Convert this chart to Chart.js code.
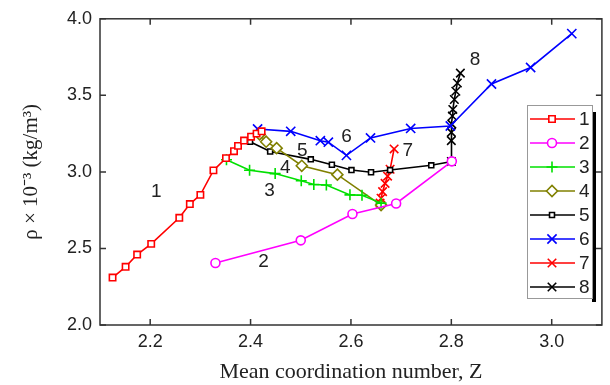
<!DOCTYPE html>
<html>
<head>
<meta charset="utf-8">
<script src="https://cdn.jsdelivr.net/npm/chart.js@4.4.1/dist/chart.umd.min.js"></script>
<style>
html,body{margin:0;padding:0;background:#fff}
</style>
</head>
<body>
<canvas id="rho" width="610" height="385"></canvas>
<script>
// series: mean coordination number Z vs density (x 10^-3)
const z1 = [2.125,2.151,2.174,2.202,2.258,2.279,2.300,2.326,2.351,2.367,2.375,2.387,2.401,2.412,2.422];
const rho1 = [2.31,2.38,2.46,2.53,2.70,2.79,2.85,3.01,3.09,3.135,3.17,3.205,3.23,3.25,3.265];
const z2 = [2.330,2.500,2.603,2.690,2.801];
const rho2 = [2.405,2.553,2.725,2.794,3.069];
const z3 = [2.352,2.398,2.449,2.501,2.526,2.551,2.598,2.622,2.660];
const rho3 = [3.079,3.011,2.989,2.942,2.918,2.914,2.850,2.847,2.796];
const z4 = [2.418,2.431,2.452,2.502,2.573,2.660];
const rho4 = [3.245,3.197,3.155,3.040,2.982,2.783];
const z5 = [2.399,2.439,2.520,2.562,2.601,2.640,2.678,2.760,2.801];
const rho5 = [3.197,3.133,3.082,3.047,3.012,2.998,3.012,3.043,3.068];
const z6 = [2.414,2.480,2.539,2.555,2.591,2.639,2.719,2.798,2.880,2.958,3.040];
const rho6 = [3.280,3.265,3.204,3.194,3.108,3.222,3.284,3.300,3.574,3.682,3.903];
const z7 = [2.686,2.678,2.673,2.668,2.663,2.660,2.658];
const rho7 = [3.150,3.017,2.972,2.925,2.871,2.828,2.796];
const z8 = [2.800,2.800,2.800,2.801,2.802,2.803,2.806,2.809,2.812,2.818];
const rho8 = [3.068,3.204,3.258,3.312,3.365,3.408,3.473,3.527,3.581,3.645];

const seriesNames = ['1','2','3','4','5','6','7','8'];
const xTicks = [2.2,2.4,2.6,2.8,3.0];
const yTicks = [2.0,2.5,3.0,3.5,4.0];

// curve labels placed next to the lines
const labelText = ['1','2','3','4','5','6','7','8'];
const labelZ = [2.212,2.426,2.438,2.469,2.503,2.591,2.713,2.847];
const labelRho = [2.87,2.41,2.88,3.03,3.14,3.23,3.14,3.73];

const pts = (xs, ys) => xs.map((x, i) => ({x: x, y: ys[i]}));

function series(name, xs, ys, color, style, r) {
  return {
    label: name,
    data: pts(xs, ys),
    showLine: true,
    borderColor: color,
    borderWidth: 1.6,
    pointStyle: style,
    pointRadius: r,
    pointHoverRadius: r,
    pointBorderColor: color,
    pointBackgroundColor: '#fff',
    pointBorderWidth: 1.6,
    tension: 0
  };
}

const sansFont = '"Liberation Sans", Arial, sans-serif';
const serifFont = '"Liberation Serif", "Times New Roman", serif';

const framePlugin = {
  id: 'frame',
  afterDatasetsDraw(chart) {
    const {ctx, chartArea: a, scales: {x, y}} = chart;
    ctx.save();
    ctx.strokeStyle = '#333';
    ctx.lineWidth = 1.5;
    ctx.strokeRect(a.left, a.top, a.right - a.left, a.bottom - a.top);
    ctx.beginPath();
    xTicks.forEach(v => {
      const px = x.getPixelForValue(v);
      ctx.moveTo(px, a.bottom); ctx.lineTo(px, a.bottom - 6);
      ctx.moveTo(px, a.top); ctx.lineTo(px, a.top + 6);
    });
    yTicks.forEach(v => {
      const py = y.getPixelForValue(v);
      ctx.moveTo(a.left, py); ctx.lineTo(a.left + 6, py);
      ctx.moveTo(a.right, py); ctx.lineTo(a.right - 6, py);
    });
    ctx.stroke();

    // curve numbers
    ctx.fillStyle = '#222';
    ctx.font = '19px ' + sansFont;
    ctx.textAlign = 'center';
    ctx.textBaseline = 'middle';
    labelText.forEach((t, i) => {
      ctx.fillText(t, x.getPixelForValue(labelZ[i]), y.getPixelForValue(labelRho[i]));
    });

    // legend box with shadow on the right
    const bx = 527, by = 105, bw = 65, bh = 193;
    ctx.fillStyle = '#000';
    ctx.fillRect(bx + bw, by + 7, 4, bh - 3);
    ctx.fillStyle = '#fff';
    ctx.fillRect(bx, by, bw, bh);
    ctx.strokeStyle = '#999';
    ctx.lineWidth = 1;
    ctx.strokeRect(bx + 0.5, by + 0.5, bw, bh);
    chart.data.datasets.forEach((ds, i) => {
      const cy = by + 14 + i * 24;
      ctx.strokeStyle = ds.borderColor;
      ctx.lineWidth = 1.6;
      ctx.beginPath();
      ctx.moveTo(530, cy); ctx.lineTo(575, cy);
      ctx.stroke();
      ctx.fillStyle = '#fff';
      Chart.helpers.drawPoint(ctx, {
        pointStyle: ds.pointStyle, radius: ds.pointRadius, borderWidth: 1.6, rotation: 0
      }, 552, cy);
      ctx.fillStyle = '#222';
      ctx.font = '19px ' + sansFont;
      ctx.textAlign = 'left';
      ctx.fillText(ds.label, 579, cy + 1);
    });
    ctx.restore();
  }
};

new Chart(document.getElementById('rho'), {
  type: 'scatter',
  data: {
    datasets: [
      series(seriesNames[0], z1, rho1, '#ff0000', 'rect', 4.5),
      series(seriesNames[1], z2, rho2, '#ff00ff', 'circle', 4.5),
      series(seriesNames[2], z3, rho3, '#00e000', 'cross', 5.5),
      series(seriesNames[3], z4, rho4, '#808000', 'rectRot', 5.5),
      series(seriesNames[4], z5, rho5, '#000000', 'rect', 3.5),
      series(seriesNames[5], z6, rho6, '#0000ff', 'crossRot', 6.5),
      series(seriesNames[6], z7, rho7, '#ff0000', 'crossRot', 6),
      series(seriesNames[7], z8, rho8, '#000000', 'crossRot', 6)
    ]
  },
  options: {
    responsive: false,
    animation: false,
    events: [],
    layout: {padding: {left: 0, top: 15, right: 3, bottom: 0}},
    plugins: {legend: {display: false}, tooltip: {enabled: false}},
    scales: {
      x: {
        type: 'linear', min: 2.1, max: 3.1,
        afterFit: s => { s.height = 60; },
        afterBuildTicks: s => { s.ticks = xTicks.map(v => ({value: v})); },
        grid: {display: false, drawTicks: false},
        border: {display: false},
        ticks: {padding: 6, color: '#222', font: {family: sansFont, size: 18},
          callback: v => v.toFixed(1)},
        title: {display: true, text: 'Mean coordination number, Z', color: '#222',
          padding: {top: 0, bottom: 0}, font: {family: serifFont, size: 22}}
      },
      y: {
        type: 'linear', min: 2, max: 4,
        afterFit: s => { s.width = 100; },
        afterBuildTicks: s => { s.ticks = yTicks.map(v => ({value: v})); },
        grid: {display: false, drawTicks: false},
        border: {display: false},
        ticks: {padding: 8, color: '#222', font: {family: sansFont, size: 18},
          callback: v => v.toFixed(1)},
        title: {display: true, text: 'ρ × 10⁻³ (kg/m³)', color: '#222',
          padding: {top: 19, bottom: 0}, font: {family: serifFont, size: 21}}
      }
    }
  },
  plugins: [framePlugin]
});
</script>
</body>
</html>
